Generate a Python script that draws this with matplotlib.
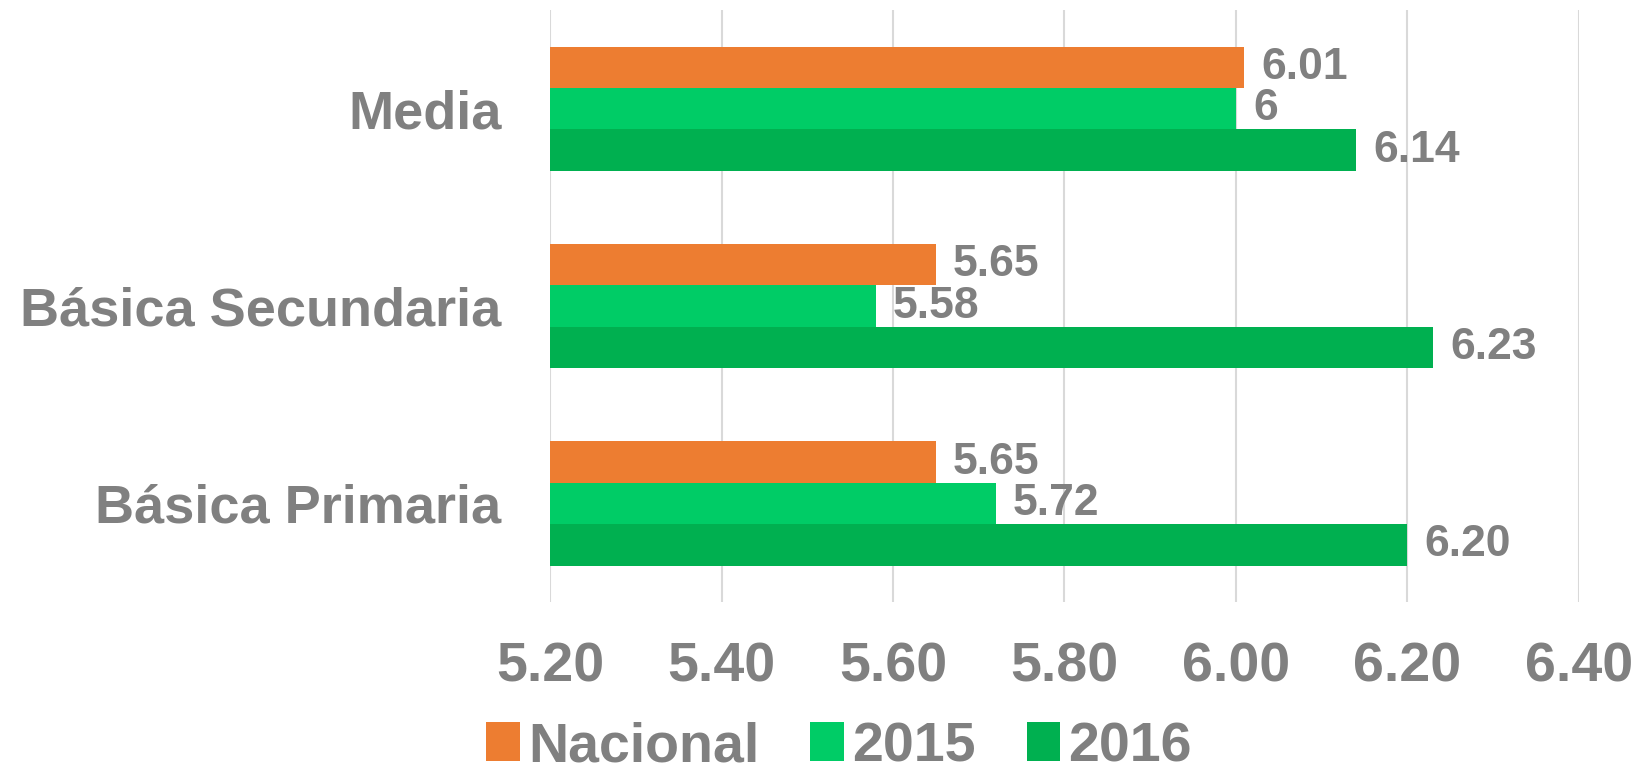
import numpy as np
import matplotlib.pyplot as plt

plt.rcParams['font.family'] = ['Liberation Sans', 'DejaVu Sans']

# Datos
categorias = ['Básica Primaria', 'Básica Secundaria', 'Media']
series = ['Nacional', '2015', '2016']
nacional = [5.65, 5.65, 6.01]
anio_2015 = [5.72, 5.58, 6.00]
anio_2016 = [6.20, 6.23, 6.14]
etiquetas_nacional = ['5.65', '5.65', '6.01']
etiquetas_2015 = ['5.72', '5.58', '6']
etiquetas_2016 = ['6.20', '6.23', '6.14']
ticks_x = [5.20, 5.40, 5.60, 5.80, 6.00, 6.20, 6.40]

colores = ['#ED7D31', '#00CC66', '#00B050']
gris = '#808080'

fig = plt.figure(figsize=(16.42, 7.75), dpi=100)
ax = fig.add_axes([0.335, 0.223, 0.6265, 0.764])

y = np.arange(len(categorias))
h = 0.21
valores = [nacional, anio_2015, anio_2016]
etiquetas = [etiquetas_nacional, etiquetas_2015, etiquetas_2016]
offsets = [h, 0, -h]

for serie, vals, labs, off, col in zip(series, valores, etiquetas, offsets, colores):
    barras = ax.barh(y + off, np.array(vals) - 5.2, left=5.2, height=h,
                     color=col, label=serie, zorder=3)
    for b, lab in zip(barras, labs):
        ax.annotate(lab, (b.get_x() + b.get_width(), b.get_y() + b.get_height() / 2),
                    xytext=(17, 0), textcoords='offset pixels',
                    va='center', ha='left', fontsize=32, fontweight='bold', color=gris)

ax.set_xlim(5.2, 6.4)
ax.set_ylim(-0.5, 2.5)
ax.set_xticks(ticks_x)
ax.set_xticklabels([f'{t:.2f}' for t in ticks_x])
ax.set_yticks(y)
ax.set_yticklabels(categorias)
ax.tick_params(axis='x', labelsize=40, colors=gris, length=0, pad=28)
ax.tick_params(axis='y', labelsize=39, colors=gris, length=0, pad=35)
for lab in ax.get_xticklabels() + ax.get_yticklabels():
    lab.set_fontweight('bold')

ax.grid(axis='x', color='#D9D9D9', linewidth=1.5, zorder=0)
for s in ax.spines.values():
    s.set_visible(False)

leg = fig.legend(loc='center', bbox_to_anchor=(0.511, 1 - 747 / 775), ncol=3,
                 frameon=False, handlelength=0.6, handleheight=0.7,
                 handletextpad=0.15, columnspacing=0.92, borderpad=0.1,
                 prop={'size': 40, 'weight': 'bold'})
for t in leg.get_texts():
    t.set_color(gris)

fig.savefig('out.png', dpi=100)
